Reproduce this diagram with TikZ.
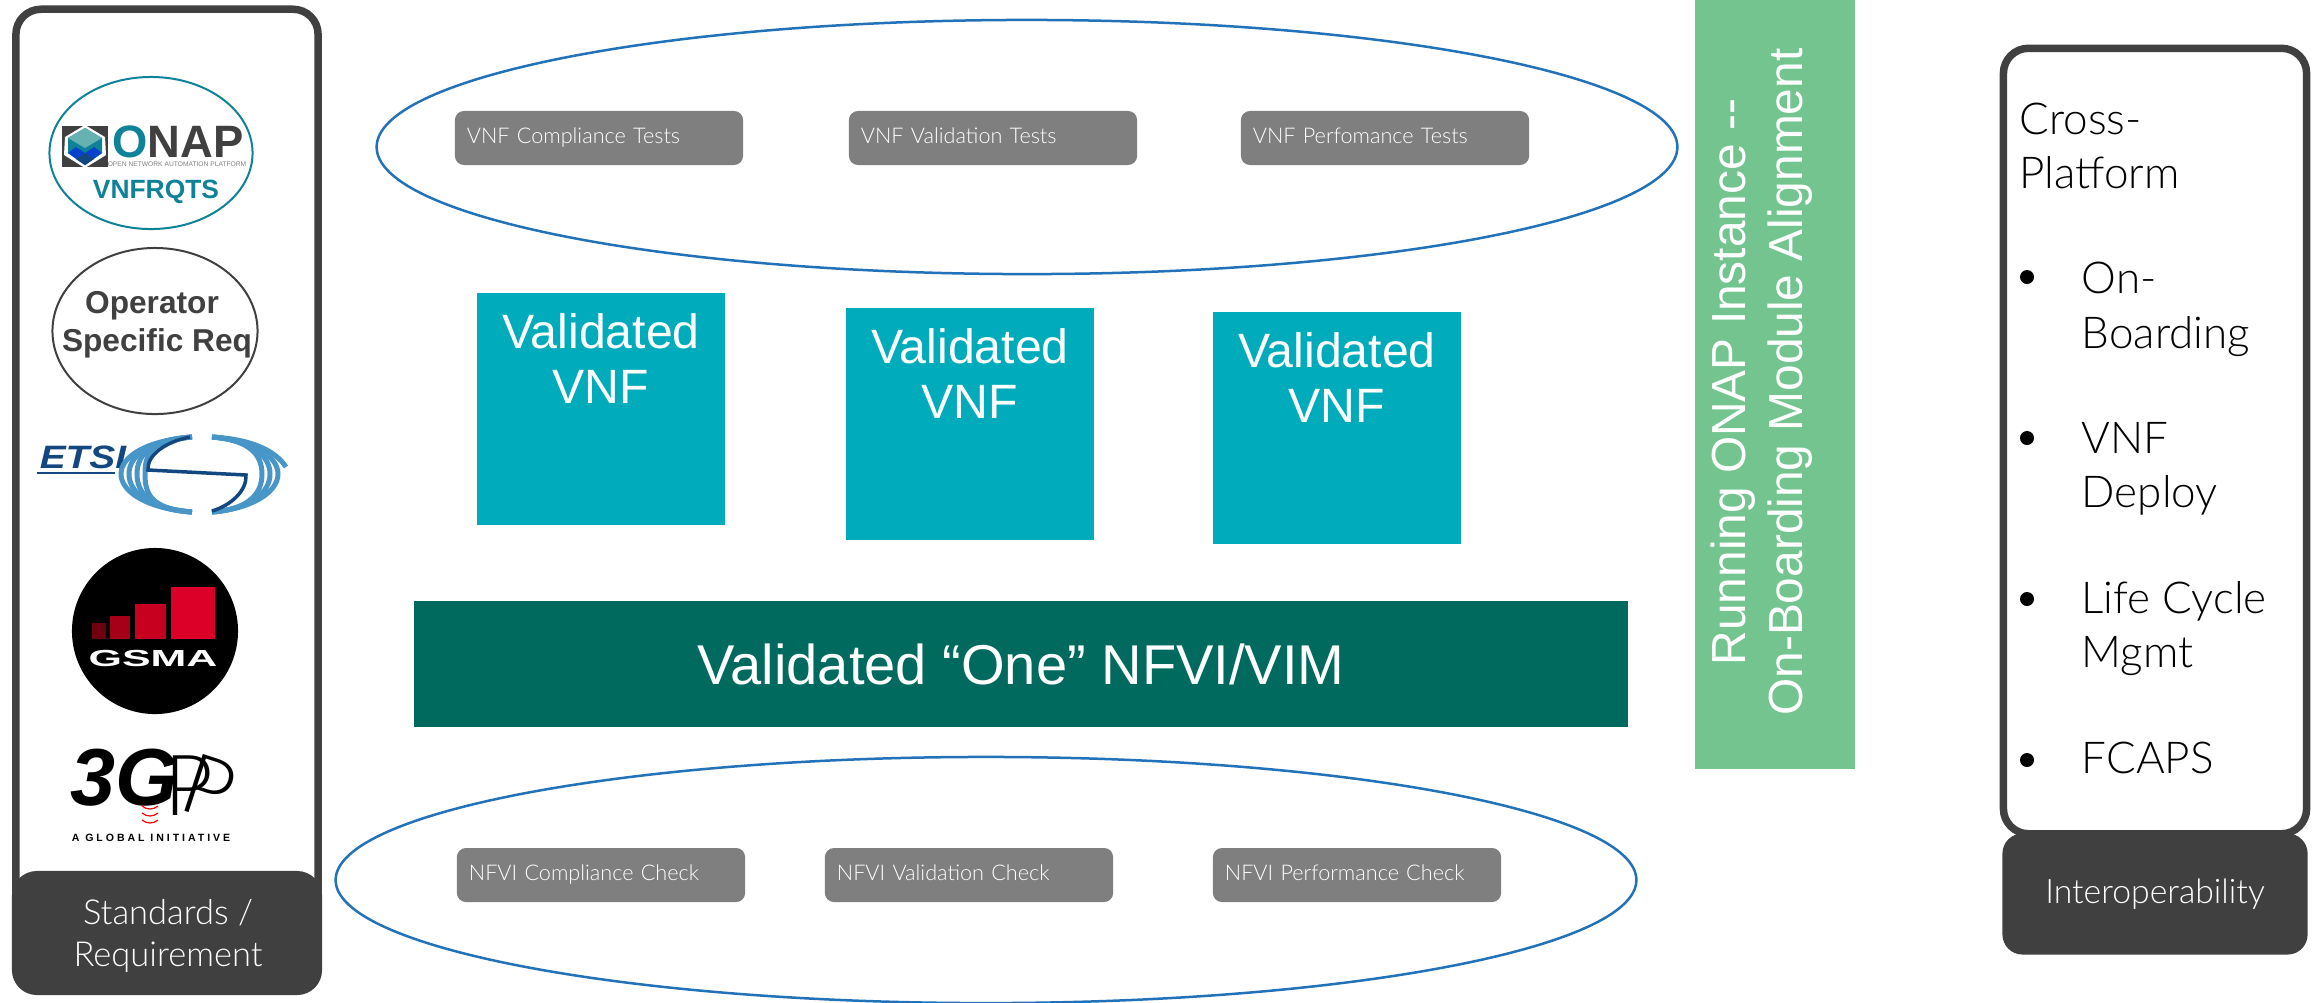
\documentclass[tikz,border=0pt]{standalone}
\usepackage{fontspec}
\setmainfont{Liberation Sans}
\newfontfamily\gillfont{Lato Light}
\usetikzlibrary{shapes.geometric, positioning, shadows}
\definecolor{panelGray}{RGB}{64,64,64}
\definecolor{chipGray}{RGB}{127,127,127}
\definecolor{ringBlue}{RGB}{34,114,185}
\definecolor{vnfTeal}{RGB}{0,172,187}
\definecolor{nfviGreen}{RGB}{0,106,94}
\definecolor{onapGreen}{RGB}{115,196,143}
\definecolor{onapTeal}{RGB}{14,130,153}
\definecolor{etsiNavy}{RGB}{18,71,127}
\definecolor{etsiBlue}{RGB}{72,150,200}
\definecolor{gsmaOne}{RGB}{110,0,16}
\definecolor{gsmaTwo}{RGB}{165,0,24}
\definecolor{gsmaThree}{RGB}{200,0,32}
\definecolor{gsmaFour}{RGB}{220,0,40}

\begin{document}
\begin{tikzpicture}[
    x=0.01cm, y=-0.01cm,
    panel/.style={rectangle, draw=panelGray, line width=0.075cm, fill=white, rounded corners=0.25cm, drop shadow={shadow xshift=0pt, shadow yshift=-0.03cm, opacity=0.2}},
    footer/.style={rectangle, fill=panelGray, rounded corners=0.25cm, inner sep=0pt},
    footertext/.style={text=white, align=center, inner sep=0pt, font=\gillfont\fontsize{9.8}{12}\selectfont},
    ring/.style={ellipse, draw=ringBlue, line width=0.025cm, inner sep=0pt},
    chip/.style={rectangle, fill=chipGray, rounded corners=0.09cm, text=white, minimum width=2.88cm, minimum height=0.54cm, inner xsep=0.12cm, inner ysep=0pt, text width=2.64cm, text height=0.16cm, text depth=0.05cm, align=left, font=\gillfont\fontsize{6.15}{7.5}\selectfont},
    vnfbox/.style={rectangle, fill=vnfTeal, minimum width=2.47cm, minimum height=2.31cm, inner sep=0pt},
    vnfcap/.style={text=white, align=center, inner sep=0pt, font=\fontsize{13.7}{15.6}\selectfont},
    logoring/.style={ellipse, line width=0.02cm, inner sep=0pt},
    listtext/.style={anchor=base west, inner sep=0pt, font=\gillfont\fontsize{12.5}{15.6}\selectfont},
    dot/.style={circle, fill=black, minimum size=0.14cm, inner sep=0pt}
]
\useasboundingbox (0,0) rectangle (2313,1002);

\node[ring, minimum width=13cm, minimum height=2.54cm] (vnfRing) at (1027,147) {};
\node[ring, minimum width=13cm, minimum height=2.46cm] (nfviRing) at (986,880) {};

\node[chip] (vnfCompliance) at (599,138) {VNF Compliance Tests};
\node[chip] (vnfValidation) at (993,138) {VNF Validation Tests};
\node[chip] (vnfPerformance) at (1385,138) {VNF Perfomance Tests};
\node[chip] (nfviCompliance) at (601,875) {NFVI Compliance Check};
\node[chip] (nfviValidation) at (969,875) {NFVI Validation Check};
\node[chip] (nfviPerformance) at (1357,875) {NFVI Performance Check};

\node[vnfbox] (vnfOne) at (601,409) {};
\node[vnfbox] (vnfTwo) at (970,424) {};
\node[vnfbox] (vnfThree) at (1337,428) {};
\node[vnfcap, below=0.2cm of vnfOne.north] (vnfOneText) {Validated\\VNF};
\node[vnfcap, below=0.2cm of vnfTwo.north] (vnfTwoText) {Validated\\VNF};
\node[vnfcap, below=0.2cm of vnfThree.north] (vnfThreeText) {Validated\\VNF};

\node[rectangle, fill=nfviGreen, minimum width=12.13cm, minimum height=1.25cm, text=white, font=\fontsize{15.95}{18}\selectfont] (nfviBar) at (1021,664) {Validated “One” NFVI/VIM};

\node[rectangle, fill=onapGreen, minimum width=1.59cm, minimum height=7.69cm, inner sep=0pt] (onapBar) at (1775,384) {};
\node[rotate=90, text=white, align=center, inner sep=0pt, font=\fontsize{13.6}{16.2}\selectfont] (onapText) at (1762,382) {Running ONAP Instance -{}-\\On-Boarding Module Alignment};

\node[panel, minimum width=3.02cm, minimum height=9.11cm] (stdPanel) at (167,465) {};
\node[footer, minimum width=3.1cm, minimum height=1.24cm] (stdFooter) at (167,933) {};
\node[footertext] (stdFooterText) at (168,936) {Standards /\\Requirement};

\node[panel, minimum width=3.03cm, minimum height=7.85cm] (xpPanel) at (2155,441) {};
\node[footer, minimum width=3.05cm, minimum height=1.21cm, rounded corners=0.2cm] (xpFooter) at (2155,894) {};
\node[footertext, font=\gillfont\fontsize{9.6}{12}\selectfont] (xpFooterText) at (2155,894) {Interoperability};

\node[listtext] (xpCross) at (2019,134) {Cross-};
\node[listtext] (xpPlatform) at (2019,188) {Platform};
\node[dot] (dotOne) at (2027,277) {};
\node[listtext] (itemOn) at (2081,293) {On-};
\node[listtext] (itemBoarding) at (2081,348) {Boarding};
\node[dot] (dotTwo) at (2027,438) {};
\node[listtext] (itemVnf) at (2081,453) {VNF};
\node[listtext] (itemDeploy) at (2081,507) {Deploy};
\node[dot] (dotThree) at (2027,599) {};
\node[listtext] (itemLife) at (2081,613) {Life Cycle};
\node[listtext] (itemMgmt) at (2081,667) {Mgmt};
\node[dot] (dotFour) at (2027,760) {};
\node[listtext] (itemFcaps) at (2081,773) {FCAPS};

\node[logoring, draw=onapTeal, minimum width=2.03cm, minimum height=1.52cm] (onapRing) at (151,153) {};
\fill[panelGray] (62,126) rectangle (108,167);
\fill[white] (85,125) -- (105,137) -- (106,155) -- (85,168) -- (64,155) -- (65,137) -- cycle;
\fill[onapTeal] (85,128) -- (102,138) -- (102,153) -- (85,165) -- (68,153) -- (68,138) -- cycle;
\fill[teal!60] (85,128) -- (102,138) -- (85,148) -- (68,138) -- cycle;
\fill[blue!50!onapTeal] (68,153) -- (76,147) -- (85,153) -- (94,147) -- (102,153) -- (85,165) -- cycle;
\fill[etsiNavy] (85,165) -- (94,159) -- (85,153) -- (76,159) -- cycle;
\node[anchor=base west, inner sep=0pt, font=\bfseries\fontsize{12.9}{14}\selectfont] (onapWord) at (112,157) {\textcolor{onapTeal}{O}\textcolor{panelGray}{NAP}};
\node[anchor=base, inner sep=0pt, text=gray, font=\fontsize{1.9}{2}\selectfont] (onapTag) at (177,166) {OPEN NETWORK AUTOMATION PLATFORM};
\node[inner sep=0pt, text=onapTeal, font=\bfseries\fontsize{7.5}{9}\selectfont] (onapSub) at (156,192) {VNFRQTS};

\node[logoring, draw=panelGray, minimum width=2.05cm, minimum height=1.66cm] (operatorRing) at (155,331) {};
\node[anchor=base, inner sep=0pt, text=panelGray, font=\bfseries\fontsize{9}{10}\selectfont] (operatorOne) at (152,313) {Operator};
\node[anchor=base, inner sep=0pt, text=panelGray, font=\bfseries\fontsize{9}{10}\selectfont] (operatorTwo) at (157,351) {Specific Req};

\node[anchor=base west, inner sep=0pt, text=etsiNavy, xscale=1.2, font=\bfseries\itshape\fontsize{9.2}{10}\selectfont] (etsiWord) at (39,468) {ETSI};
\draw[etsiNavy, line width=0.012cm] (37,473) -- (115,473);
\foreach \d in {0,8,16,24} {
  \draw[etsiBlue, line width=0.05cm] (192,437) .. controls (150,440) and (121+\d,455) .. (121+\d,474) .. controls (121+\d,493) and (150,509) .. (192,512);
}
\foreach \d in {10,18,26} {
  \draw[etsiBlue, line width=0.05cm] (212,437) .. controls (250,440) and (288-\d,455) .. (288-\d,474) .. controls (288-\d,493) and (250,509) .. (212,512);
}
\draw[etsiBlue, line width=0.05cm] (212,437) .. controls (250,439) and (275,450) .. (286,467);
\draw[etsiNavy, line width=0.035cm] (190,437) .. controls (165,442) and (147,455) .. (148,470) -- (246,475) .. controls (247,490) and (232,505) .. (212,511);

\node[circle, fill=black, minimum size=1.66cm, inner sep=0pt] (gsmaDisc) at (155,631) {};
\fill[gsmaOne] (92,623) rectangle (106,639);
\fill[gsmaTwo] (110,616) rectangle (130,639);
\fill[gsmaThree] (135,604) rectangle (166,639);
\fill[gsmaFour] (171,587) rectangle (215,639);
\node[inner sep=0pt, text=white, xscale=1.85, font=\bfseries\fontsize{6.6}{8}\selectfont] (gsmaWord) at (153,658) {GSMA};

\node[anchor=base west, inner sep=0pt, font=\bfseries\itshape\fontsize{23}{24}\selectfont] (tgppThree) at (70,805) {3G};
\node[anchor=base west, inner sep=0pt, font=\gillfont\fontsize{24}{26}\selectfont] (tgppP) at (164,815) {P};
\node[anchor=base west, inner sep=0pt, rotate=-18, font=\gillfont\fontsize{24}{26}\selectfont] (tgppQ) at (176,808) {P};
\draw[red, line width=0.012cm] (142,806) .. controls (147,810) and (153,810) .. (158,806);
\draw[red, line width=0.012cm] (142,813) .. controls (147,817) and (153,817) .. (158,813);
\draw[red, line width=0.012cm] (142,820) .. controls (147,824) and (153,824) .. (158,820);
\node[inner sep=0pt, font=\bfseries\addfontfeature{LetterSpace=28}\fontsize{3}{4}\selectfont] (tgppLine) at (151,838) {A GLOBAL INITIATIVE};

\end{tikzpicture}
\end{document}
